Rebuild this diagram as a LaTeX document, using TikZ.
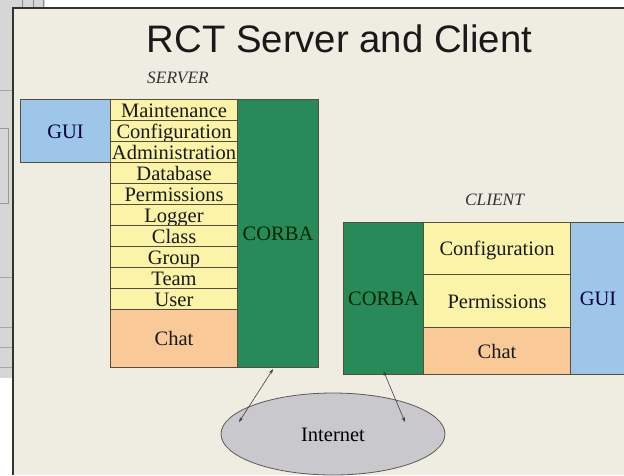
\documentclass[tikz,border=0pt]{standalone}
\usepackage{fontspec}
\setmainfont{Liberation Serif}
\newfontfamily\titlefont{Liberation Sans}
\usetikzlibrary{arrows.meta,positioning,shapes.geometric}
\definecolor{slidebg}{RGB}{239,236,225}
\definecolor{uigrey}{RGB}{214,214,214}
\definecolor{guiblue}{RGB}{158,198,232}
\definecolor{corbagreen}{RGB}{40,138,88}
\definecolor{rowyellow}{RGB}{250,243,168}
\definecolor{chatorange}{RGB}{250,201,152}
\definecolor{netgrey}{RGB}{200,200,205}
\definecolor{edgebrown}{RGB}{85,78,60}
\newcommand{\boxfont}{\fontsize{20.5}{22}\selectfont}
\tikzset{
  layer/.style={draw=edgebrown, line width=1.1pt, inner sep=0pt, anchor=north west,
                font=\boxfont, text height=14pt, text depth=0pt, text=black!90},
  sidelabel/.style={font=\itshape\fontsize{17.4}{19}\selectfont, anchor=base, text=black!80},
  netlink/.style={{Stealth[length=5pt,width=3.5pt]}-{Stealth[length=5pt,width=3.5pt]}, black!75, line width=0.6pt},
}

\begin{document}
\begin{tikzpicture}[x=1pt, y=-1pt]
  \clip (0,0) rectangle (624,475);
  \useasboundingbox (0,0) rectangle (624,475);
  % ================================================================== window behind the slide
  \fill[white] (0,0) rectangle (624,475);
  \fill[uigrey] (0,0) rectangle (45,8);
  \fill[uigrey] (0,0) rectangle (13,378);
  \foreach \xx in {22,33,43} \draw[black!45, line width=0.6pt] (\xx,0) -- (\xx,8);
  \foreach \yy in {90,277,327,347,367} \draw[black!35, line width=0.6pt] (0,\yy) -- (13,\yy);
  \draw[black!40, line width=0.6pt] (0,128) -- (8,128) -- (8,203) -- (0,203);
  % ================================================================== slide
  \fill[slidebg] (13,8) rectangle (624,475);
  \draw[black!80, line width=1.3pt] (13,475) -- (13,8) -- (624,8);
  \node[font=\titlefont\fontsize{38.3}{40}\selectfont, anchor=base, inner sep=0pt, text=black!90] (title) at (339.5,52) {RCT Server and Client};
  % ================================================================== server
  \node[sidelabel] (serverlbl) at (178,83) {SERVER};
  \node[layer, fill=guiblue, minimum width=90, minimum height=63, text=blue!25!black] (sgui) at (20,99) {GUI};
  \foreach \lbl [count=\i from 0] in {Maintenance,Configuration,Administration,Database,Permissions,Logger,Class,Group,Team,User}
    \node[layer, fill=rowyellow, minimum width=127, minimum height=21] (srow\i) at (110,99+21*\i) {\lbl};
  \node[layer, fill=chatorange, minimum width=127, minimum height=58] (schat) at (110,309) {Chat};
  \node[layer, fill=corbagreen, minimum width=81, minimum height=268, text=green!15!black] (scorba) at (237,99) {CORBA};
  % ================================================================== client
  \node[sidelabel] (clientlbl) at (494.5,205) {CLIENT};
  \node[layer, fill=corbagreen, minimum width=80, minimum height=152, text=green!15!black] (ccorba) at (343,222) {CORBA};
  \node[layer, fill=rowyellow, minimum width=147, minimum height=52] (cconf) at (423,222) {Configuration};
  \node[layer, fill=rowyellow, minimum width=147, minimum height=53] (cperm) at (423,274) {Permissions};
  \node[layer, fill=chatorange, minimum width=147, minimum height=47] (cchat) at (423,327) {Chat};
  \node[layer, fill=guiblue, minimum width=55, minimum height=152, text=blue!25!black] (cgui) at (570,222) {GUI};
  % ================================================================== internet
  \node[ellipse, draw=black!65, line width=0.8pt, fill=netgrey, minimum width=224, minimum height=82,
        inner sep=0pt, font=\boxfont, text height=14pt, text depth=0pt] (net) at (333,434) {Internet};
  \coordinate (netA) at (239,422);
  \coordinate (netB) at (405,422);
  \draw[netlink] ([xshift=-5pt, yshift=-1pt]scorba.south) -- (netA);
  \draw[netlink] ([yshift=4pt]ccorba.south) -- (netB);
\end{tikzpicture}
\end{document}
